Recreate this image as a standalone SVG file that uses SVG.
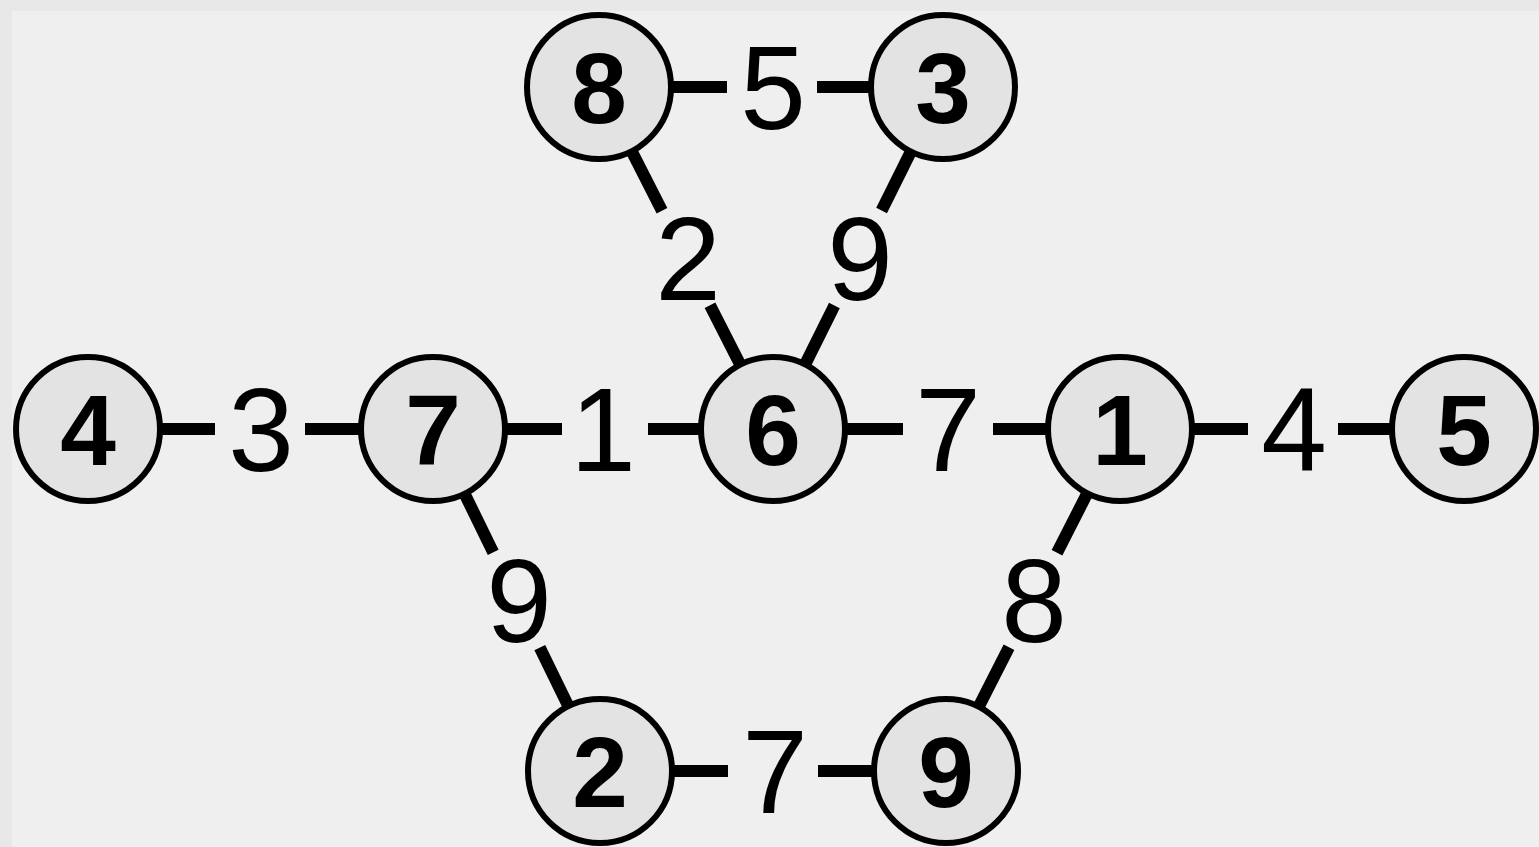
<svg xmlns="http://www.w3.org/2000/svg" width="1539" height="847" viewBox="0 0 1539 847">
<style>
.edge{stroke:#000;stroke-width:12;fill:none;stroke-linecap:butt}
.node circle{fill:#e3e3e3;stroke:#000;stroke-width:6}
.nl{font-family:"Liberation Sans",Arial,sans-serif;font-weight:bold;font-size:100px;text-anchor:middle;fill:#000}
.el{font-family:"Liberation Sans",Arial,sans-serif;font-size:118px;text-anchor:middle;fill:#000}
</style>
<rect x="0" y="0" width="1539" height="847" fill="#e8e8e8"/>
<rect x="12" y="11" width="1527" height="836" fill="#efefef"/>
<g id="connectors">
<!-- 8-3 -->
<line class="edge" x1="599" y1="87" x2="727" y2="87"/>
<line class="edge" x1="817" y1="87" x2="943" y2="87"/>
<text class="el" x="773" y="129">5</text>
<!-- 8-6 -->
<line class="edge" x1="599" y1="87" x2="662" y2="210.8"/>
<line class="edge" x1="710" y1="305.2" x2="773" y2="429"/>
<text class="el" x="688" y="300">2</text>
<!-- 3-6 -->
<line class="edge" x1="943" y1="87" x2="881.6" y2="210.5"/>
<line class="edge" x1="834.4" y1="305.5" x2="773" y2="429"/>
<text class="el" x="860" y="300">9</text>
<!-- 4-7 -->
<line class="edge" x1="88" y1="429" x2="215" y2="429"/>
<line class="edge" x1="305" y1="429" x2="433" y2="429"/>
<text class="el" x="261" y="471">3</text>
<!-- 7-6 -->
<line class="edge" x1="433" y1="429" x2="562" y2="429"/>
<line class="edge" x1="648" y1="429" x2="773" y2="429"/>
<text class="el" x="603" y="471">1</text>
<!-- 6-1 -->
<line class="edge" x1="773" y1="429" x2="903" y2="429"/>
<line class="edge" x1="993" y1="429" x2="1120" y2="429"/>
<text class="el" x="948" y="471">7</text>
<!-- 1-5 -->
<line class="edge" x1="1120" y1="429" x2="1248" y2="429"/>
<line class="edge" x1="1338" y1="429" x2="1464" y2="429"/>
<text class="el" x="1294" y="471">4</text>
<!-- 7-2 -->
<line class="edge" x1="433" y1="429" x2="493.2" y2="552.4"/>
<line class="edge" x1="539.8" y1="647.6" x2="600" y2="771"/>
<text class="el" x="519" y="642">9</text>
<!-- 1-9 -->
<line class="edge" x1="1120" y1="429" x2="1057" y2="552.8"/>
<line class="edge" x1="1009" y1="647.2" x2="946" y2="771"/>
<text class="el" x="1034" y="642">8</text>
<!-- 2-9 -->
<line class="edge" x1="600" y1="771" x2="728" y2="771"/>
<line class="edge" x1="818" y1="771" x2="946" y2="771"/>
<text class="el" x="775" y="813">7</text>
</g>
<g id="n8" class="node"><circle cx="599" cy="87" r="72"/><text class="nl" x="599" y="123">8</text></g>
<g id="n3" class="node"><circle cx="943" cy="87" r="72"/><text class="nl" x="943" y="123">3</text></g>
<g id="n4" class="node"><circle cx="88" cy="429" r="72"/><text class="nl" x="88" y="465">4</text></g>
<g id="n7" class="node"><circle cx="433" cy="429" r="72"/><text class="nl" x="433" y="465">7</text></g>
<g id="n6" class="node"><circle cx="773" cy="429" r="72"/><text class="nl" x="773" y="465">6</text></g>
<g id="n1" class="node"><circle cx="1120" cy="429" r="72"/><text class="nl" x="1120" y="465">1</text></g>
<g id="n5" class="node"><circle cx="1464" cy="429" r="72"/><text class="nl" x="1464" y="465">5</text></g>
<g id="n2" class="node"><circle cx="600" cy="771" r="72"/><text class="nl" x="600" y="807">2</text></g>
<g id="n9" class="node"><circle cx="946" cy="771" r="72"/><text class="nl" x="946" y="807">9</text></g>
</svg>
